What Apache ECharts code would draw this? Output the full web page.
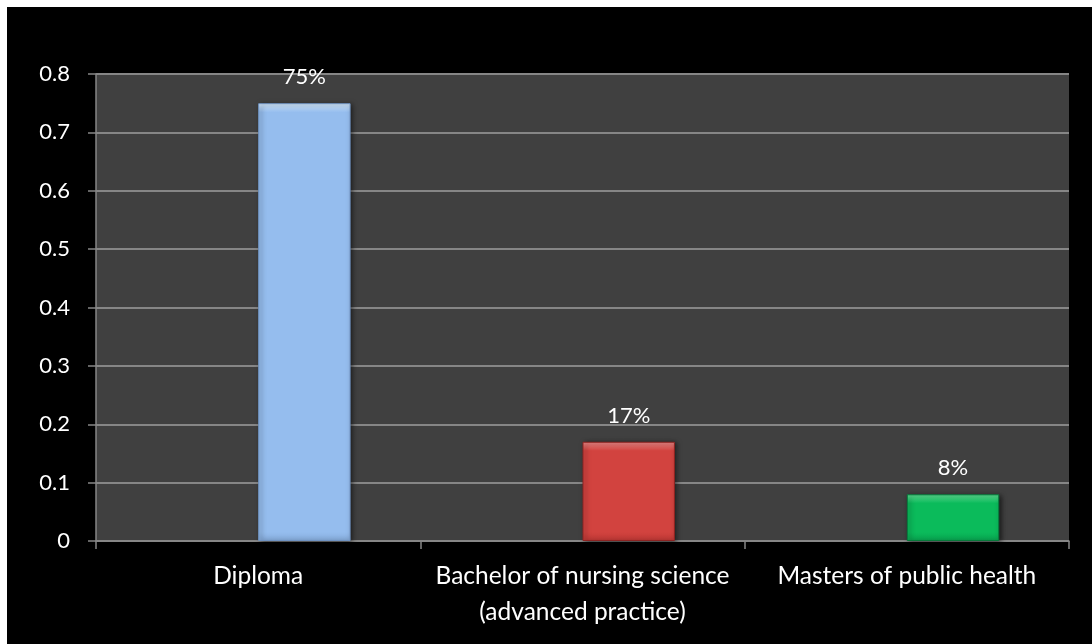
<!DOCTYPE html>
<html>
<head>
<meta charset="utf-8">
<style>
  html, body { margin: 0; padding: 0; background: #ffffff; }
  #chart { position: absolute; left: 7px; top: 7px; width: 1085px; height: 637px; background: #000000; }
</style>
<script src="https://cdn.jsdelivr.net/npm/echarts@6/dist/echarts.min.js"></script>
</head>
<body>
<div id="chart"></div>
<script>
// Share of respondents by highest nursing qualification
const categories = ['Diploma', 'Bachelor of nursing science\n(advanced practice)', 'Masters of public health'];
const shares = [0.75, 0.17, 0.08];
const yTicks = [0, 0.1, 0.2, 0.3, 0.4, 0.5, 0.6, 0.7, 0.8];

// Bevel-like fills: light rim at the top, base colour, slightly darker base
const palette = [
  { top: '#d8ecff', base: '#95bdee', low: '#86acdc', edge: '#6f93c2' },
  { top: '#ee8a88', base: '#d2433f', low: '#bf3835', edge: '#8e2422' },
  { top: '#5fe094', base: '#0bbb5b', low: '#08a550', edge: '#067a3b' }
];

const plotHeight = 467;
const yMax = 0.8;

function barFill(value, c) {
  const h = value / yMax * plotHeight;
  const rim = Math.min(0.5, 9 / h);
  return {
    type: 'linear', x: 0, y: 0, x2: 0, y2: 1,
    colorStops: [
      { offset: 0, color: c.top },
      { offset: rim, color: c.base },
      { offset: 1 - rim, color: c.base },
      { offset: 1, color: c.low }
    ]
  };
}

const barData = shares.map((v, i) => ({
  value: v,
  itemStyle: {
    color: barFill(v, palette[i]),
    borderColor: palette[i].edge,
    borderWidth: 1,
    shadowColor: 'rgba(0,0,0,0.6)',
    shadowBlur: 5,
    shadowOffsetX: 2,
    shadowOffsetY: 1
  }
}));

const chart = echarts.init(document.getElementById('chart'), null, { renderer: 'canvas' });
chart.setOption({
  backgroundColor: '#000000',
  animation: false,
  textStyle: { fontFamily: 'Lato, "Open Sans", sans-serif' },
  grid: {
    left: 89, top: 67, width: 973, height: plotHeight,
    show: true, backgroundColor: '#404040', borderWidth: 0
  },
  xAxis: {
    type: 'category',
    data: categories,
    axisLine: { show: true, lineStyle: { color: '#868686', width: 1.5 } },
    axisTick: { show: true, length: 8, lineStyle: { color: '#868686', width: 1.5 } },
    axisLabel: {
      color: '#ffffff', fontSize: 24.5, lineHeight: 36, margin: 17,
      fontFamily: 'Lato, "Open Sans", sans-serif', interval: 0
    }
  },
  yAxis: {
    type: 'value',
    min: 0, max: yMax, interval: 0.1,
    axisLine: { show: true, lineStyle: { color: '#868686', width: 1.5 } },
    axisTick: { show: true, length: 8, lineStyle: { color: '#868686', width: 1.5 } },
    splitLine: { show: true, lineStyle: { color: '#868686', width: 2 } },
    axisLabel: {
      color: '#ffffff', fontSize: 22, margin: 26,
      fontFamily: 'Lato, "Open Sans", sans-serif',
      formatter: v => {
        const t = yTicks.find(x => Math.abs(x - v) < 1e-9);
        return t === 0 ? '0' : String(+(t !== undefined ? t : v).toFixed(1));
      }
    }
  },
  series: [
    {
      // empty first series of the cluster, which leaves each bar right of centre
      name: 'blank',
      type: 'bar',
      data: categories.map(() => null),
      barGap: '0%',
      barCategoryGap: '43%'
    },
    {
      name: 'Qualification',
      type: 'bar',
      data: barData,
      barGap: '0%',
      barCategoryGap: '43%',
      label: {
        show: true, position: 'top', distance: 15,
        color: '#ffffff', fontSize: 22,
        fontFamily: 'Lato, "Open Sans", sans-serif',
        formatter: p => Math.round(p.value * 100) + '%'
      }
    }
  ]
});
</script>
</body>
</html>
